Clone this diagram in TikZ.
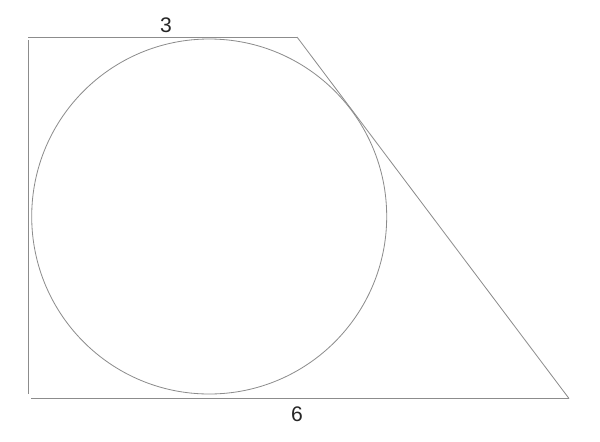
\documentclass[tikz,border=0pt]{standalone}
\usepackage{fontspec}
\setmainfont{Liberation Sans}
\begin{document}
\begin{tikzpicture}[x=0.03cm,y=-0.03cm,
  edge/.style={draw=black!45,line width=0.7pt},
  lbl/.style={font=\fontsize{18}{20}\selectfont,text=black!85,inner sep=0pt}]
\useasboundingbox (0,0) rectangle (600,441);
\coordinate (tl) at (28,37);
\coordinate (tr) at (297,37);
\coordinate (lt) at (28.5,40);
\coordinate (lb) at (28.5,394);
\coordinate (bl) at (31,398.5);
\coordinate (br) at (569,398.5);
\coordinate (o) at (209.2,216.5);
\draw[edge] (tl) -- (tr);
\draw[edge] (lt) -- (lb);
\draw[edge] (bl) -- (br);
\draw[edge] (tr) -- (br);
\draw[edge] (o) circle[radius=177.5];
\node[lbl] (three) at (166,25) {3};
\node[lbl] (six) at (297,414) {6};
\end{tikzpicture}
\end{document}
